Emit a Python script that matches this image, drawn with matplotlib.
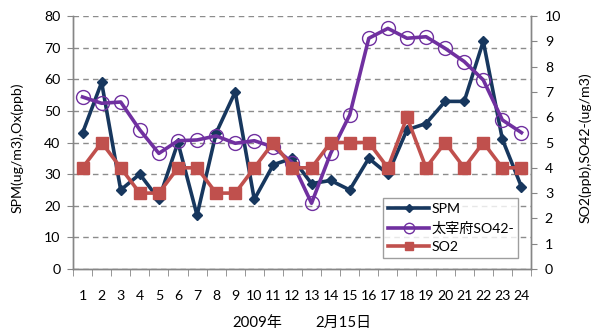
import matplotlib
matplotlib.use("Agg")
import matplotlib.pyplot as plt
from matplotlib.ticker import MultipleLocator, FixedLocator

plt.rcParams['font.family'] = ['Lato', 'Noto Sans CJK JP', 'DejaVu Sans']

hours = list(range(1, 25))
spm = [43, 59, 25, 30, 22, 40, 17, 43, 56, 22, 33, 35, 27, 28, 25, 35, 30, 44, 46, 53, 53, 72, 41, 26]
so4 = [6.8, 6.55, 6.6, 5.5, 4.57, 5.07, 5.1, 5.26, 4.97, 5.07, 4.82, 4.2, 2.6, 4.57, 6.09, 9.12, 9.51, 9.12, 9.18, 8.72, 8.2, 7.47, 5.89, 5.39]
so2 = [4, 5, 4, 3, 3, 4, 4, 3, 3, 4, 5, 4, 4, 5, 5, 5, 4, 6, 4, 5, 4, 5, 4, 4]

navy = '#17375E'
purple = '#7030A0'
red = '#C0504D'
axis_gray = '#868686'
fs = 10.2

fig = plt.figure(figsize=(5.92, 3.33), dpi=100)
ax = fig.add_axes([73/592, 64/333, 458/592, 253/333])
ax2 = ax.twinx()
ax2.patch.set_visible(False)

l1, = ax.plot(hours, spm, color=navy, lw=2.6, marker='D', ms=5.5,
              mfc=navy, mec=navy, label='SPM', zorder=3)
l2, = ax2.plot(hours, so4, color=purple, lw=2.6, marker='o', ms=10,
               mfc='none', mec=purple, mew=1.0, label='太宰府SO42-', zorder=3)
l3, = ax2.plot(hours, so2, color=red, lw=2.6, marker='s', ms=8,
               mfc=red, mec=red, label='SO2', zorder=4)

ax.set_xlim(0.5, 24.5)
ax.set_ylim(0, 80)
ax2.set_ylim(0, 10)

ax.yaxis.set_major_locator(MultipleLocator(10))
ax2.yaxis.set_major_locator(MultipleLocator(1))
ax.grid(axis='y', color='#8c8c8c', ls=(0, (4, 3)), lw=1.0)
ax.set_axisbelow(True)

ax.set_xticks(hours)
ax.set_xticklabels([str(h) for h in hours])
ax.xaxis.set_minor_locator(FixedLocator([h + 0.5 for h in range(0, 25)]))
ax.tick_params(axis='x', which='major', length=0, pad=15, labelsize=fs)
ax.tick_params(axis='x', which='minor', length=5, color=axis_gray, direction='out')
ax.tick_params(axis='y', length=4, color=axis_gray, pad=5, labelsize=fs)
ax2.tick_params(axis='y', length=4, color=axis_gray, pad=6, labelsize=fs)

for a in (ax, ax2):
    a.spines['top'].set_visible(False)
    for side in ('left', 'right', 'bottom'):
        a.spines[side].set_color(axis_gray)
        a.spines[side].set_linewidth(1.0)

fig.text(17/592, 1 - 148/333, 'SPM(ug/m3),Ox(ppb)', rotation=90,
         ha='center', va='center', fontsize=fs)
fig.text(585/592, 1 - 148/333, 'SO2(ppb),SO42-(ug/m3)', rotation=90,
         ha='center', va='center', fontsize=fs)
fig.text(257/592, 1 - 323/333, '2009年', ha='center', va='center', fontsize=10.8)
fig.text(343/592, 1 - 323/333, '2月15日', ha='center', va='center', fontsize=10.8)

leg = ax2.legend(handles=[l1, l2, l3], loc='lower left',
                 bbox_to_anchor=(0.677, 0.044, 0.295, 0.257), mode='expand',
                 fontsize=fs, frameon=True, fancybox=False, handlelength=2.9,
                 handletextpad=0.15, borderpad=0.35, labelspacing=0.45,
                 borderaxespad=0, markerscale=0.75)
leg.get_frame().set_edgecolor(axis_gray)
leg.get_frame().set_linewidth(1.0)

fig.savefig('out.png', dpi=100)
